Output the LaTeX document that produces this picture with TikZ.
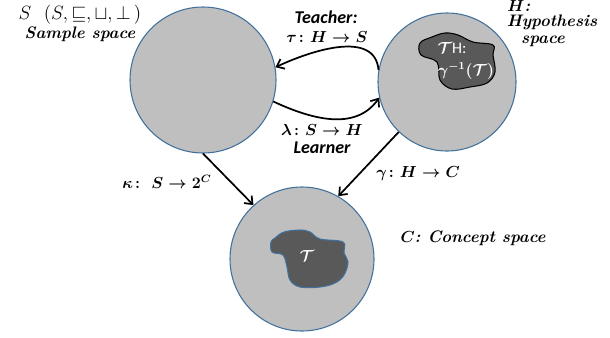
\documentclass[tikz,border=0pt]{standalone}
\usepackage{amsmath}
\usepackage{fontspec}
\newfontfamily\calibri{Carlito}
\usetikzlibrary{arrows.meta,positioning}
\definecolor{spacefill}{RGB}{191,191,191}
\definecolor{spaceedge}{RGB}{65,113,156}
\definecolor{blobfill}{RGB}{89,89,89}

\begin{document}
\begin{tikzpicture}[
  x=0.75pt, y=-0.75pt,
  space/.style={draw=spaceedge,fill=spacefill,circle,line width=0.8pt,inner sep=0pt},
  blob/.style={fill=blobfill,line width=0.8pt},
  map/.style={line width=1.3pt,-{Straight Barb[length=5pt,width=8pt]}},
  tag/.style={font=\fontsize{12.5}{14}\selectfont\bfseries\itshape,inner sep=0pt},
  who/.style={font=\fontsize{13.5}{15}\selectfont\calibri\bfseries\itshape,inner sep=0pt},
  fn/.style={font=\large\boldmath,inner sep=0pt},
  inside/.style={text=white,font=\large\boldmath,inner sep=0pt}
]
  \useasboundingbox (0,0) rectangle (610,337);

  % the three spaces
  \node[space,minimum size=109.5pt] (S) at (203,80) {};
  \node[space,minimum size=103.5pt] (H) at (447,82) {};
  \node[space,minimum size=108pt] (C) at (302,259) {};

  % regions for the target concept
  \draw[blob,draw=black] plot[smooth cycle,tension=0.6] coordinates {
    (420,43) (421,55) (437,62) (440,80) (452,89) (470,87) (487,83)
    (495,72) (493,55) (493,45) (473,42) (458,35) (445,33) (432,37)};
  \draw[blob,draw=spaceedge] plot[smooth cycle,tension=0.6] coordinates {
    (271,242) (275,238) (284,232) (300,230) (310,232) (320,239) (343,242)
    (344,253) (348,262) (344,275) (335,283) (320,287) (300,287) (290,280)
    (287,267) (283,255) (272,252)};
  \node[inside] (TH) at (452,48) {$\mathcal{T}$\calibri\mdseries H:};
  \node[inside] (inv) at (466,71) {$\gamma^{-1}(\mathcal{T})$};
  \node[inside] (T) at (307,256) {$\mathcal{T}$};

  % labels of the spaces
  \node[font=\Large,inner sep=0pt] (Slat) at (80,15) {$S\ \ (S,{\sqsubseteq},{\sqcup},{\bot}\,)$};
  \node[tag] (Sname) at (80,34) {Sample space};
  \node[tag,anchor=west] (Hh) at (507,6) {$\boldsymbol{H}$:};
  \node[tag] (Hname) at (552,22) {Hypothesis};
  \node[tag] (Hspace) at (543,41) {space};
  \node[tag] (Cname) at (473,238) {$\boldsymbol{C}$:\ Concept\ space};

  % maps between the spaces
  \draw[map] (H.170) to[out=95,in=25] (S.10);
  \draw[map] (S.-17) to[out=-25,in=-125] (H.193);
  \draw[map] (S.-90) -- (C.132);
  \draw[map] (H.226) -- (C.60);

  \node[who] (teach) at (326,17) {Teacher:};
  \node[fn] (tau) at (327,37) {$\tau\colon H \rightarrow S$};
  \node[fn] (lam) at (322,130) {$\lambda\colon S \rightarrow H$};
  \node[who] (learn) at (322,148) {Learner};
  \node[fn] (kappa) at (167,182) {$\kappa\colon\ S \rightarrow 2^{C}$};
  \node[fn] (gam) at (418,174) {$\gamma\colon H \rightarrow C$};
\end{tikzpicture}
\end{document}
